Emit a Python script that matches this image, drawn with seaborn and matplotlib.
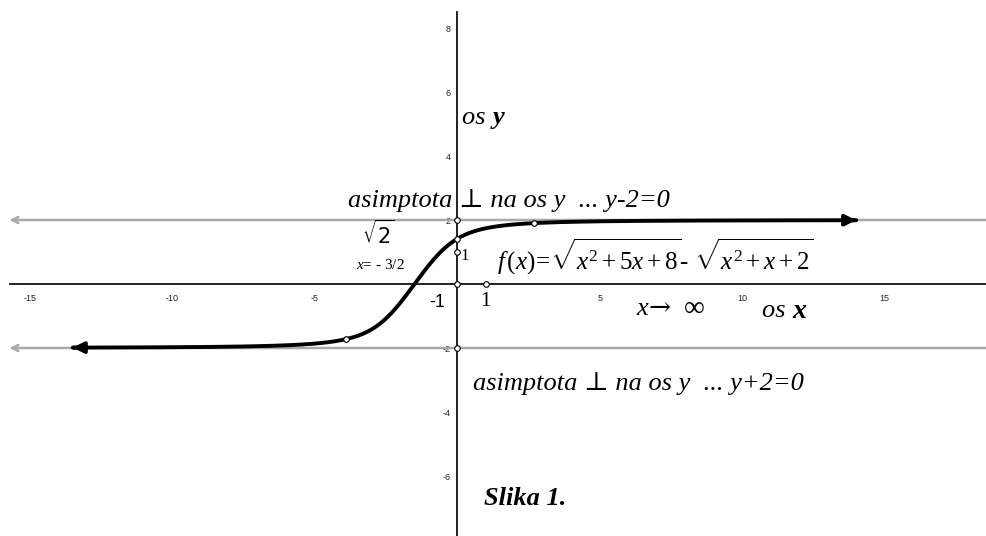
import numpy as np
import pandas as pd
import matplotlib
matplotlib.use("Agg")
import matplotlib.pyplot as plt
from matplotlib.ticker import FixedLocator, FuncFormatter
import seaborn as sns

# f(x) = sqrt(x^2 + 5x + 8) - sqrt(x^2 + x + 2)
root_a = [1, 5, 8]
root_b = [1, 1, 2]
curve_x = np.linspace(-13.5, 14.0, 600)

# horizontal asymptotes
asymptotes = [2, -2]

# marked points (open circles)
marked_x_axis = [0, 1]
marked_y_axis = [1, np.sqrt(2), 2, -2]
marked_on_curve = [-3.9, 2.7]

x_ticks = list(range(-15, 19))
y_ticks = list(range(-7, 9))
x_tick_labels = {-15: "-15", -10: "-10", -5: "-5", 5: "5", 10: "10", 15: "15"}
y_tick_labels = {8: "8", 6: "6", 4: "4", 2: "2", -2: "-2", -4: "-4", -6: "-6"}


def f(x):
    x = np.asarray(x, dtype=float)
    a = root_a[0] * x**2 + root_a[1] * x + root_a[2]
    b = root_b[0] * x**2 + root_b[1] * x + root_b[2]
    return np.sqrt(a) - np.sqrt(b)


sns.set_theme(style="white")
plt.rcParams["font.family"] = ["Liberation Serif", "DejaVu Serif"]
plt.rcParams["text.color"] = "black"
plt.rcParams["mathtext.fontset"] = "custom"
plt.rcParams["mathtext.rm"] = "Liberation Serif"
plt.rcParams["mathtext.it"] = "Liberation Serif:italic"
plt.rcParams["mathtext.bf"] = "Liberation Serif:bold"

fig = plt.figure(figsize=(9.87, 5.36), dpi=100)
ax = fig.add_axes([0, 0, 1, 1])
ax.set_xlim(-16.05, 18.59)
ax.set_ylim(-7.875, 8.875)
ax.set_facecolor("white")

# asymptotes with open arrowheads on the left
for yv in asymptotes:
    ax.annotate("", xy=(-15.72, yv), xytext=(18.59, yv),
                arrowprops=dict(arrowstyle="->", color="#a9a9a9", lw=1.8,
                                mutation_scale=11, shrinkA=0, shrinkB=0),
                zorder=1)

# the function graph
df = pd.DataFrame({"x": curve_x, "y": f(curve_x)})
sns.lineplot(data=df, x="x", y="y", color="black", linewidth=2.8, ax=ax,
             zorder=4, estimator=None, sort=False)

# coordinate axes through the origin
for side in ("top", "right"):
    ax.spines[side].set_visible(False)
ax.spines["left"].set_position(("data", 0))
ax.spines["bottom"].set_position(("data", 0))
ax.spines["bottom"].set_bounds(-15.7, 18.59)
ax.spines["left"].set_bounds(-7.875, 8.5)
for side in ("left", "bottom"):
    ax.spines[side].set_color("#111111")
    ax.spines[side].set_linewidth(1.3)

ax.xaxis.set_major_locator(FixedLocator(x_ticks))
ax.yaxis.set_major_locator(FixedLocator(y_ticks))
ax.xaxis.set_major_formatter(FuncFormatter(lambda v, p: x_tick_labels.get(int(round(v)), "")))
ax.yaxis.set_major_formatter(FuncFormatter(lambda v, p: y_tick_labels.get(int(round(v)), "")))
ax.tick_params(axis="both", direction="inout", length=8, width=1.1, color="#111111",
               labelsize=6.5, labelcolor="#222222")
ax.tick_params(axis="x", pad=3)
ax.tick_params(axis="y", pad=1)
for lab in ax.get_xticklabels() + ax.get_yticklabels():
    lab.set_fontfamily("Liberation Sans")
ax.set_xlabel("")
ax.set_ylabel("")

# arrowheads at both ends of the graph
for x0, x1 in ((curve_x[1], curve_x[0]), (curve_x[-2], curve_x[-1])):
    ax.annotate("", xy=(x1, float(f(x1))), xytext=(x0, float(f(x0))),
                arrowprops=dict(arrowstyle="-|>", color="black", lw=2.8,
                                mutation_scale=16, shrinkA=0, shrinkB=0),
                zorder=5)

# marked points
mk = dict(marker="o", markersize=4, markerfacecolor="white",
          markeredgecolor="black", markeredgewidth=0.8, linestyle="none", zorder=6)
ax.plot(marked_x_axis, [0] * len(marked_x_axis), **mk)
ax.plot([0] * len(marked_y_axis), marked_y_axis, **mk)
ax.plot(marked_on_curve, f(marked_on_curve), **mk)

big = 19
# labels of the axes
ax.text(0.15, 5.2, "os ", fontsize=big, style="italic", va="center", ha="left")
ax.text(1.25, 5.2, "y", fontsize=big, style="italic", weight="bold", va="center", ha="left")
ax.text(10.7, -0.85, "os ", fontsize=big, style="italic", va="center", ha="left")
ax.text(11.75, -0.85, "x", fontsize=big + 1, style="italic", weight="bold", va="center", ha="left")
ax.text(6.3, -0.78, "x", fontsize=big, style="italic", va="center", ha="left")
ax.text(6.72, -0.74, "→", fontsize=big, family=["DejaVu Serif"], va="center", ha="left")
ax.text(7.95, -0.78, "∞", fontsize=big + 2, va="center", ha="left")

# asymptote descriptions
ax.text(-3.85, 2.4, "asimptota ⊥ na os y  ... y-2=0", fontsize=big, style="italic",
        va="baseline", ha="left")
ax.text(0.55, -3.3, "asimptota ⊥ na os y  ... y+2=0", fontsize=big, style="italic",
        va="baseline", ha="left")

# the function itself
ax.text(1.4, 0.85, r"$f\,(x)\!=\!\sqrt{x^2+5x+8}$- $\sqrt{x^2+x+2}$", fontsize=18,
        va="center", ha="left")

# special values
ax.text(-3.35, 1.55, r"$\sqrt{2}$", fontsize=15, math_fontfamily="dejavusans",
        va="center", ha="left")
ax.text(0.12, 0.87, "1", fontsize=12, va="center", ha="left")
ax.text(-3.55, 0.6, r"$x$= - 3/2", fontsize=11, va="center", ha="left")
ax.text(-0.7, -0.58, "-1", fontsize=13, family="Liberation Sans", va="center", ha="center")
ax.text(1.0, -0.55, "1", fontsize=15, va="center", ha="center")

# caption
ax.text(0.95, -6.7, "Slika 1.", fontsize=big, style="italic", weight="bold",
        va="center", ha="left")

fig.savefig("out.png", dpi=100, facecolor="white")
